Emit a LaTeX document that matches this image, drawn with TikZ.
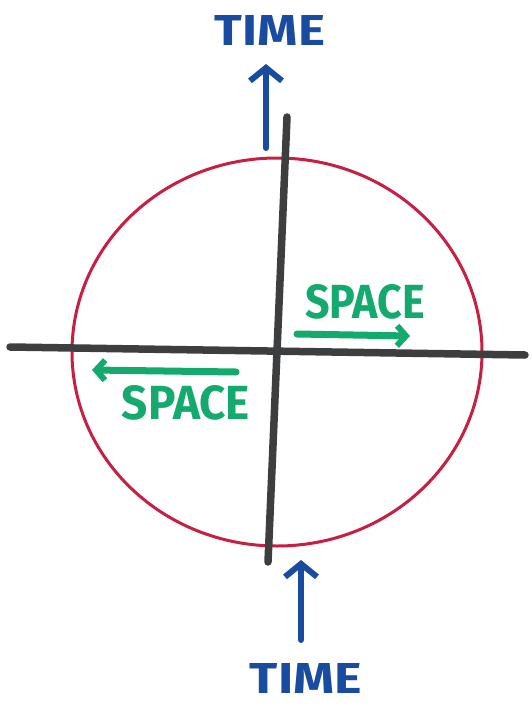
\documentclass[tikz,border=0pt]{standalone}
\usepackage{fontspec}
\setmainfont{Fira Sans}
\usetikzlibrary{arrows.meta}
\definecolor{penblue}{RGB}{25,75,160}
\definecolor{pengreen}{RGB}{20,170,110}
\definecolor{penred}{RGB}{200,30,65}
\definecolor{pengray}{RGB}{60,62,64}
\tikzset{
  lbl/.style={inner sep=0pt, font=\bfseries},
  timearrow/.style={penblue, line width=6pt, line cap=round, -{Straight Barb[length=13pt,width=32pt,line width=6pt]}},
  spacearrow/.style={pengreen, line width=7pt, line cap=round, -{Straight Barb[length=9pt,width=20pt,line width=6pt]}},
  axis/.style={pengray, line width=7.5pt, line cap=round}
}
\begin{document}
\begin{tikzpicture}[x=1pt,y=-1pt]
\useasboundingbox (0,0) rectangle (532,706);
% circle
\draw[penred, line width=3pt] (277,352) ellipse [x radius=205, y radius=194];
% axes
\coordinate (hl) at (10,347);
\coordinate (hr) at (525,355);
\coordinate (vt) at (287,117);
\coordinate (vb) at (268,562);
\draw[axis] (hl) -- (hr);
\draw[axis] (vt) -- (vb);
% time arrows
\coordinate (ta0) at (266,148);
\coordinate (ta1) at (266,64);
\draw[timearrow] (ta0) -- (ta1);
\node[lbl, text=penblue] (t1) at (270,31) {\resizebox{110pt}{30pt}{TIME}};
\coordinate (tb0) at (301,640);
\coordinate (tb1) at (301,560);
\draw[timearrow] (tb0) -- (tb1);
\node[lbl, text=penblue] (t2) at (306,678) {\resizebox{112pt}{30pt}{TIME}};
% space arrows
\coordinate (sa0) at (297,334);
\coordinate (sa1) at (410,336);
\draw[spacearrow] (sa0) -- (sa1);
\node[lbl, text=pengreen] (s1) at (365,302) {\resizebox{120pt}{34pt}{SPACE}};
\coordinate (sb0) at (236,372);
\coordinate (sb1) at (92,370);
\draw[spacearrow] (sb0) -- (sb1);
\node[lbl, text=pengreen] (s2) at (186,403) {\resizebox{128pt}{34pt}{SPACE}};
\end{tikzpicture}
\end{document}
